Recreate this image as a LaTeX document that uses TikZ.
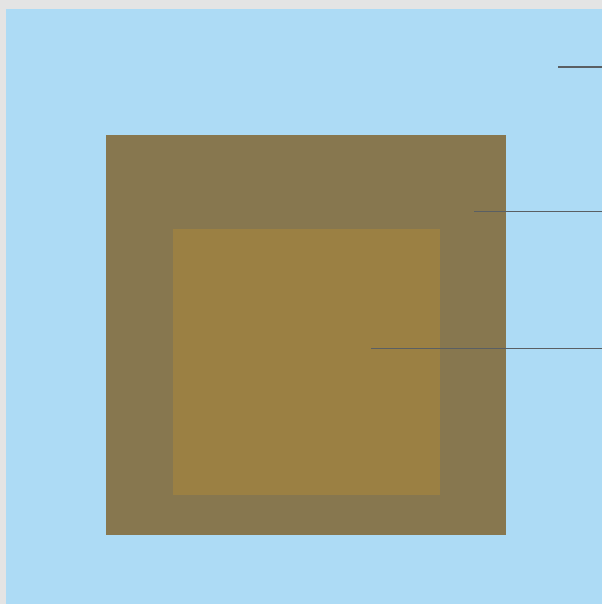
\documentclass[tikz,border=0pt]{standalone}
\definecolor{bgray}{HTML}{E4E4E4}
\definecolor{skyb}{HTML}{ADDBF5}
\definecolor{outerb}{HTML}{87774F}
\definecolor{innerb}{HTML}{9B8043}
\definecolor{leader}{HTML}{5A5F63}
\begin{document}
\begin{tikzpicture}[x=1pt,y=-1pt,
  leaderline/.style={draw=leader,line width=1.2pt}]
\useasboundingbox (0,0) rectangle (602,604);
\fill[bgray] (0,0) rectangle (602,604);
\fill[skyb] (6,9) rectangle (602,604);
\fill[outerb] (106,135) rectangle (506,535);
\fill[innerb] (173,229) rectangle (440,495);
\coordinate (a1) at (558,67);
\coordinate (a2) at (602,67);
\coordinate (b1) at (474,211.5);
\coordinate (b2) at (602,211.5);
\coordinate (c1) at (371,348.5);
\coordinate (c2) at (602,348.5);
\draw[leaderline] (a1) -- (a2);
\draw[leaderline] (b1) -- (b2);
\draw[leaderline] (c1) -- (c2);
\end{tikzpicture}
\end{document}
